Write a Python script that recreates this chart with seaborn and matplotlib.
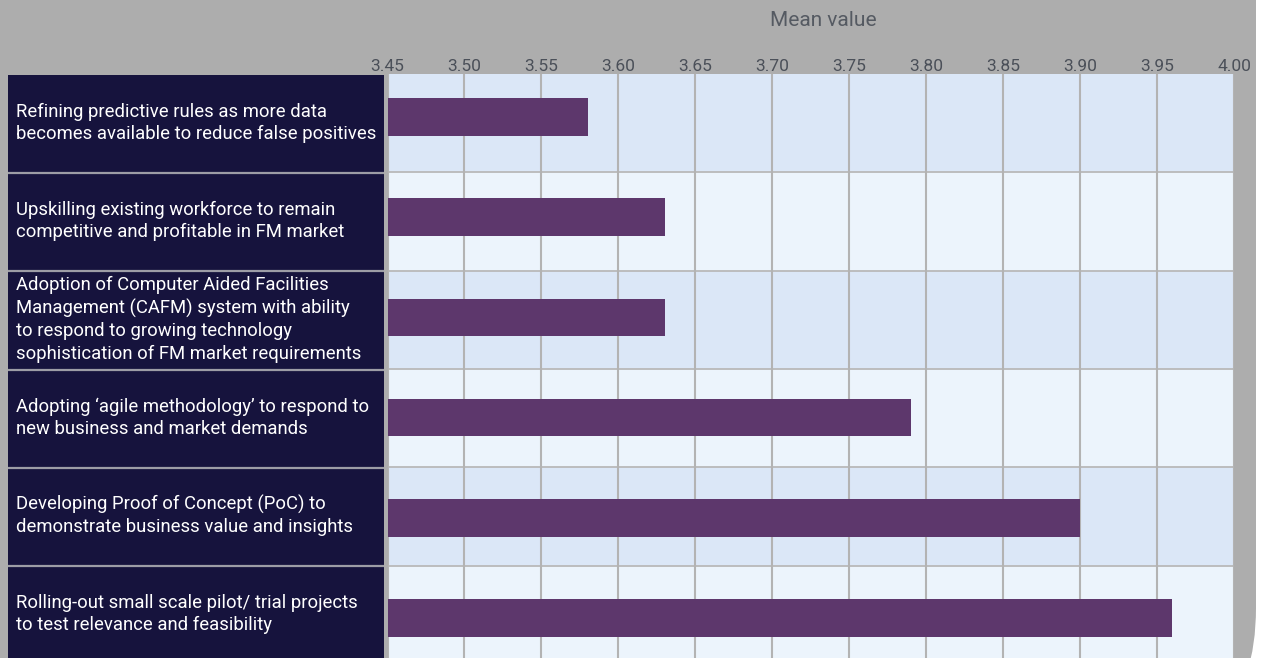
import matplotlib
matplotlib.use("Agg")
import matplotlib.pyplot as plt
import seaborn as sns
import pandas as pd
from matplotlib.patches import FancyBboxPatch
from matplotlib.transforms import IdentityTransform

# ---- data -------------------------------------------------------------
statements = [
    "Refining predictive rules as more data\nbecomes available to reduce false positives",
    "Upskilling existing workforce to remain\ncompetitive and profitable in FM market",
    "Adoption of Computer Aided Facilities\nManagement (CAFM) system with ability\nto respond to growing technology\nsophistication of FM market requirements",
    "Adopting \u2018agile methodology\u2019 to respond to\nnew business and market demands",
    "Developing Proof of Concept (PoC) to\ndemonstrate business value and insights",
    "Rolling-out small scale pilot/ trial projects\nto test relevance and feasibility",
]
mean_values = [3.58, 3.63, 3.63, 3.79, 3.90, 3.96]
x_ticks = [3.45, 3.50, 3.55, 3.60, 3.65, 3.70, 3.75, 3.80, 3.85, 3.90, 3.95, 4.00]
x_tick_labels = [f"{t:.2f}" for t in x_ticks]
axis_title = "Mean value"

df = pd.DataFrame({"statement": statements, "mean": mean_values})

# ---- style ------------------------------------------------------------
sns.set_theme(style="white")
plt.rcParams["font.family"] = ["Roboto", "DejaVu Sans"]

BG_GRAY = "#adadad"
NAVY = "#16133d"
BAR = "#5d376c"
ROW_DARK = "#dbe7f7"
ROW_LIGHT = "#ecf4fc"
GRID = "#b3b3b3"
TICK_TXT = "#4b5059"

W, H = 1265, 658
fig = plt.figure(figsize=(W / 100, H / 100), dpi=100, facecolor="white")

# rounded grey backdrop panel (display pixels)
panel = FancyBboxPatch((-200, -100), 1456, 958,
                       boxstyle="round,pad=0,rounding_size=150",
                       transform=IdentityTransform(),
                       facecolor=BG_GRAY, edgecolor="none", zorder=-5)
fig.add_artist(panel)


def frac_box(x0, y0, x1, y1):
    """Pixel box (top-left origin) -> figure-fraction rect."""
    return [x0 / W, (H - y1) / H, (x1 - x0) / W, (y1 - y0) / H]


top_px, bot_px = 74, 664
n = len(statements)

# ---- main bar axes ----------------------------------------------------
ax = fig.add_axes(frac_box(387.5, top_px, 1234, bot_px))
ax.set_facecolor("none")

# alternating row bands (axes fraction in y)
for i in range(n):
    y0 = 1 - (i + 1) / n
    ax.add_patch(plt.Rectangle((0, y0), 1, 1 / n, transform=ax.transAxes,
                               facecolor=ROW_DARK if i % 2 == 0 else ROW_LIGHT,
                               edgecolor="none", zorder=0))
for i in range(1, n):
    ax.plot([0, 1], [1 - i / n] * 2, transform=ax.transAxes,
            color="#b9b9b9", lw=1.3, zorder=1, solid_capstyle="butt")

for t in x_ticks:
    ax.axvline(t, color=GRID, lw=1.5, zorder=1)

sns.barplot(data=df, x="mean", y="statement", orient="h", color=BAR,
            width=0.377, saturation=1, linewidth=0, edgecolor="none",
            ax=ax, zorder=3)

ax.set_xlim(x_ticks[0], x_ticks[-1])
ax.set_ylim(5.46, -0.43)
ax.set_xticks(x_ticks)
ax.set_xticklabels(x_tick_labels)
ax.xaxis.tick_top()
ax.tick_params(axis="x", length=0, pad=0, labelsize=12.5, labelcolor=TICK_TXT)
ax.set_yticks([])
ax.set_xlabel("")
ax.set_ylabel("")
for s in ax.spines.values():
    s.set_visible(False)

fig.text(823 / W, 1 - 21 / H, axis_title, ha="center", va="center",
         fontsize=15, color="#555a62")

# ---- statement label panel --------------------------------------------
lab = fig.add_axes(frac_box(8, top_px + 1, 384, bot_px))
lab.set_facecolor(NAVY)
lab.set_xlim(0, 1)
lab.set_ylim(n, 0)
lab.set_xticks([])
lab.set_yticks([])
for s in lab.spines.values():
    s.set_visible(False)
for i in range(1, n):
    lab.axhline(i, color="#9d9da6", lw=1.6)
for i, txt in enumerate(statements):
    lab.text(8 / 376, i + 0.49, txt, ha="left", va="center", color="white",
             fontsize=13.3, linespacing=1.3)

fig.savefig("out.png", dpi=100, facecolor=fig.get_facecolor())
